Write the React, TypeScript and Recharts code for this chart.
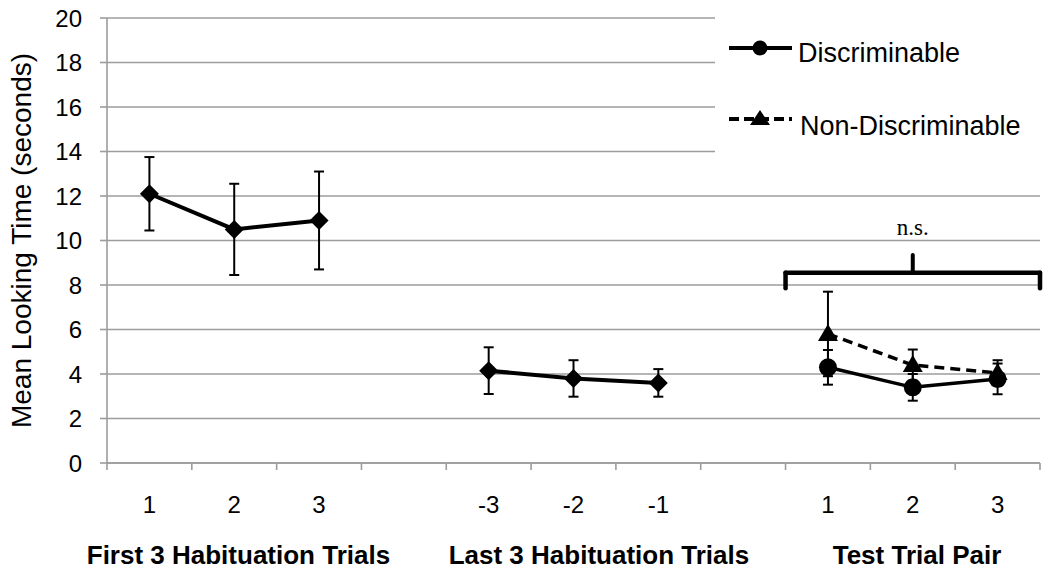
import React from "react";
import {
  LineChart,
  Line,
  XAxis,
  YAxis,
  CartesianGrid,
  ErrorBar,
  Legend,
  ReferenceLine,
  ReferenceDot,
} from "recharts";

// slot numbers on the 11-slot x axis (gaps at 4 and 8)
const firstSlots = [1, 2, 3];
const lastSlots = [5, 6, 7];
const testSlots = [9, 10, 11];

const firstLabels = ["1", "2", "3"];
const lastLabels = ["-3", "-2", "-1"];
const testLabels = ["1", "2", "3"];

const groupNames = ["First 3 Habituation Trials", "Last 3 Habituation Trials", "Test Trial Pair"];
const groupTicks = [2.05, 6.3, 10.05];

const firstMeans = [12.1, 10.5, 10.9];
const firstErr = [1.65, 2.05, 2.2];
const lastMeans = [4.15, 3.8, 3.6];
const lastErr = [1.05, 0.82, 0.62];
const discMeans = [4.3, 3.4, 3.78];
const discErr = [0.78, 0.6, 0.69];
const nonDiscMeans = [5.8, 4.4, 4.05];
const nonDiscErr = [1.9, 0.7, 0.57];

const seriesNames = ["Discriminable", "Non-Discriminable"];

const yTicks = [0, 2, 4, 6, 8, 10, 12, 14, 16, 18, 20];
const slotBounds = [0.5, 1.5, 2.5, 3.5, 4.5, 5.5, 6.5, 7.5, 8.5, 9.5, 10.5, 11.5];

// bracket annotation over the test trials (x in slots, y in seconds)
const bracketX = [8.5, 10, 11.5];
const bracketY = { end: 7.85, bar: 8.55, peak: 9.35, text: 10.6 };

const toRows = (slots: number[], means: number[], errs: number[]) =>
  slots.map((x, i) => ({ x, mean: means[i], err: errs[i] }));

const firstRows = toRows(firstSlots, firstMeans, firstErr);
const lastRows = toRows(lastSlots, lastMeans, lastErr);
const discRows = toRows(testSlots, discMeans, discErr);
const nonDiscRows = toRows(testSlots, nonDiscMeans, nonDiscErr);

const slotLabel: Record<number, string> = {};
firstSlots.forEach((s, i) => (slotLabel[s] = firstLabels[i]));
lastSlots.forEach((s, i) => (slotLabel[s] = lastLabels[i]));
testSlots.forEach((s, i) => (slotLabel[s] = testLabels[i]));
const labelTicks = [...firstSlots, ...lastSlots, ...testSlots];

const FONT = "'Liberation Sans', Arial, Helvetica, sans-serif";
const GRID = "#9c9c9c";

const diamond = (p: any) => {
  const { cx, cy, index } = p;
  if (cx == null || cy == null) return <g key={index} />;
  const r = 9.5;
  return <path key={index} d={`M${cx},${cy - r}L${cx + r},${cy}L${cx},${cy + r}L${cx - r},${cy}Z`} fill="#000" />;
};

const circle = (p: any) => {
  const { cx, cy, index } = p;
  if (cx == null || cy == null) return <g key={index} />;
  return <circle key={index} cx={cx} cy={cy} r={9} fill="#000" />;
};

const triangle = (p: any) => {
  const { cx, cy, index } = p;
  if (cx == null || cy == null) return <g key={index} />;
  return <path key={index} d={`M${cx},${cy - 10}L${cx + 10},${cy + 7}L${cx - 10},${cy + 7}Z`} fill="#000" />;
};

function LegendBox() {
  return (
    <svg width={335} height={180} style={{ display: "block", background: "#fff" }}>
      <line x1={14} y1={48} x2={77} y2={48} stroke="#000" strokeWidth={4} />
      <circle cx={45} cy={48} r={7.5} fill="#000" />
      <text x={83} y={62} fontSize={27} fontFamily={FONT} fill="#000">
        {seriesNames[0]}
      </text>
      <line x1={14} y1={119} x2={77} y2={119} stroke="#000" strokeWidth={4} strokeDasharray="10 5" />
      <path d="M45,110 L55,125 L35,125 Z" fill="#000" />
      <text x={85} y={135} fontSize={27} fontFamily={FONT} fill="#000">
        {seriesNames[1]}
      </text>
    </svg>
  );
}

const YLabel = (props: any) => {
  const vb = props.viewBox || { x: 0, y: 0, width: 0, height: 0 };
  const x = vb.x + 21;
  const y = vb.y + vb.height / 2;
  return (
    <text
      x={x}
      y={y}
      transform={`rotate(-90 ${x} ${y})`}
      textAnchor="middle"
      dominantBaseline="central"
      fontSize={28}
      fontFamily={FONT}
      fill="#000"
    >
      Mean Looking Time (seconds)
    </text>
  );
};

export default function App() {
  return (
    <div style={{ position: "absolute", left: 0, top: 0, width: 1050, height: 575, background: "#fff" }}>
      <LineChart width={1050} height={575} margin={{ top: 18, right: 10, left: 0, bottom: 0 }}>
        <CartesianGrid vertical={false} stroke={GRID} strokeWidth={1.6} />
        <XAxis
          dataKey="x"
          type="number"
          domain={[0.5, 11.5]}
          ticks={slotBounds}
          tickFormatter={() => ""}
          height={7}
          tickSize={7}
          stroke={GRID}
          strokeWidth={1.6}
          allowDataOverflow
        />
        <XAxis
          xAxisId="t1"
          dataKey="x"
          type="number"
          domain={[0.5, 11.5]}
          ticks={labelTicks}
          tickFormatter={(v: number) => slotLabel[v] ?? ""}
          height={55}
          tickSize={0}
          tickMargin={26}
          axisLine={false}
          tickLine={false}
          tick={{ fill: "#000", fontSize: 24, fontFamily: FONT }}
          allowDataOverflow
        />
        <XAxis
          xAxisId="t2"
          dataKey="x"
          type="number"
          domain={[0.5, 11.5]}
          ticks={groupTicks}
          tickFormatter={(_v: number, i: number) => groupNames[i]}
          height={50}
          tickSize={0}
          tickMargin={21}
          axisLine={false}
          tickLine={false}
          tick={{ fill: "#000", fontSize: 26, fontWeight: "bold", fontFamily: FONT }}
          interval={0}
          allowDataOverflow
        />
        <YAxis
          type="number"
          domain={[0, 20]}
          ticks={yTicks}
          width={107}
          tickSize={7}
          tickMargin={18}
          stroke={GRID}
          strokeWidth={1.6}
          tick={{ fill: "#000", fontSize: 24, fontFamily: FONT }}
          interval={0}
          label={{ content: YLabel }}
        />
        <Legend
          layout="vertical"
          align="center"
          verticalAlign="middle"
          wrapperStyle={{ top: 0, left: 715, width: 335, height: 180 }}
          content={() => <LegendBox />}
        />

        <ReferenceLine segment={[{ x: bracketX[0], y: bracketY.end }, { x: bracketX[0], y: bracketY.bar }]} stroke="#000" strokeWidth={4.5} strokeLinecap="round" />
        <ReferenceLine segment={[{ x: bracketX[0], y: bracketY.bar }, { x: bracketX[2], y: bracketY.bar }]} stroke="#000" strokeWidth={4.5} strokeLinecap="round" />
        <ReferenceLine segment={[{ x: bracketX[2], y: bracketY.bar }, { x: bracketX[2], y: bracketY.end }]} stroke="#000" strokeWidth={4.5} strokeLinecap="round" />
        <ReferenceLine segment={[{ x: bracketX[1], y: bracketY.bar }, { x: bracketX[1], y: bracketY.peak }]} stroke="#000" strokeWidth={4} strokeLinecap="round" />
        <ReferenceDot
          x={bracketX[1]}
          y={bracketY.text}
          r={1}
          fill="none"
          stroke="none"
          label={{ value: "n.s.", position: "center", fill: "#000", fontSize: 23, fontFamily: "'Liberation Serif', 'Times New Roman', serif" }}
        />

        <Line data={firstRows} dataKey="mean" name="First" stroke="#000" strokeWidth={4} dot={diamond} activeDot={false} legendType="none" isAnimationActive={false}>
          <ErrorBar dataKey="err" width={5} strokeWidth={2} stroke="#000" direction="y" />
        </Line>
        <Line data={lastRows} dataKey="mean" name="Last" stroke="#000" strokeWidth={4} dot={diamond} activeDot={false} legendType="none" isAnimationActive={false}>
          <ErrorBar dataKey="err" width={5} strokeWidth={2} stroke="#000" direction="y" />
        </Line>
        <Line data={discRows} dataKey="mean" name={seriesNames[0]} stroke="#000" strokeWidth={3.5} dot={circle} activeDot={false} isAnimationActive={false}>
          <ErrorBar dataKey="err" width={5} strokeWidth={2} stroke="#000" direction="y" />
        </Line>
        <Line data={nonDiscRows} dataKey="mean" name={seriesNames[1]} stroke="#000" strokeWidth={3.5} strokeDasharray="10 6" dot={triangle} activeDot={false} isAnimationActive={false}>
          <ErrorBar dataKey="err" width={5} strokeWidth={2} stroke="#000" direction="y" />
        </Line>
      </LineChart>
    </div>
  );
}
